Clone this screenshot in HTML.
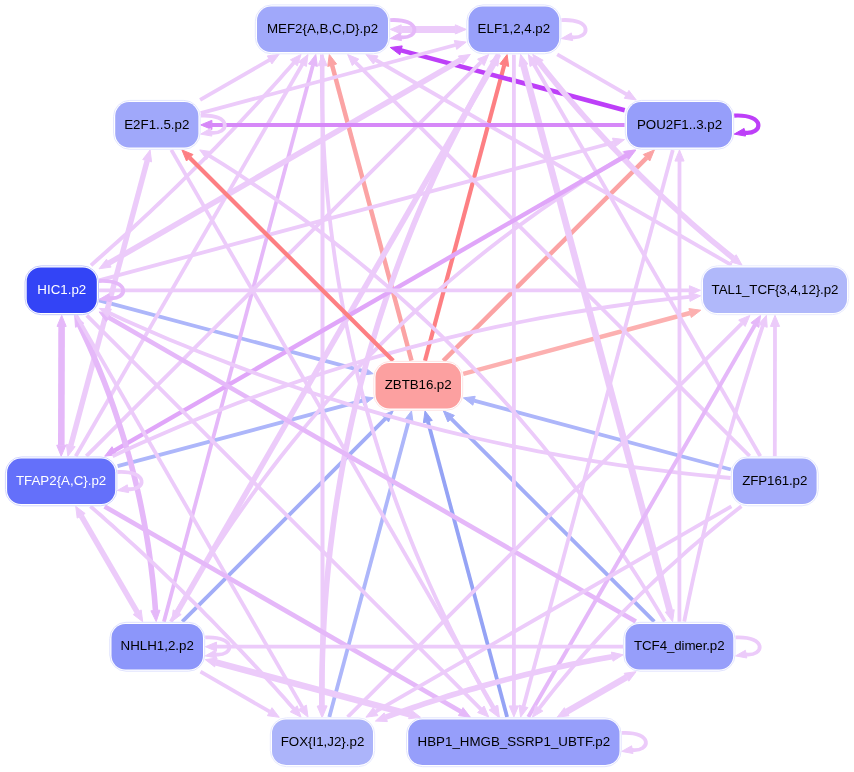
<!DOCTYPE html>
<html><head><meta charset="utf-8"><style>
html,body{margin:0;padding:0;background:#fff;width:854px;height:772px;overflow:hidden}
svg{display:block;will-change:transform}
text{font-family:"Liberation Sans",sans-serif;font-size:13.33px;text-anchor:middle}
</style></head><body>
<svg width="854" height="772" viewBox="0 0 854 772">
<path d="M411.5,360.7L332.1,65.2" stroke="#fba3a4" stroke-width="4.5" fill="none"/>
<polygon points="329.3,54.5 336.6,64.0 327.7,66.4" fill="#fba3a4" stroke="#fba3a4" stroke-width="1"/>
<path d="M425.0,360.7L504.2,65.2" stroke="#fd7f83" stroke-width="4.2" fill="none"/>
<polygon points="507.1,54.5 508.7,66.4 499.8,64.0" fill="#fd7f83" stroke="#fd7f83" stroke-width="1"/>
<path d="M443.3,360.8L646.6,157.8" stroke="#fba3a4" stroke-width="4.5" fill="none"/>
<polygon points="654.4,149.9 649.8,161.0 643.3,154.5" fill="#fba3a4" stroke="#fba3a4" stroke-width="1"/>
<path d="M463.2,373.8L690.1,313.0" stroke="#fcb0b0" stroke-width="4.5" fill="none"/>
<polygon points="700.8,310.2 691.3,317.5 688.9,308.6" fill="#fcb0b0" stroke="#fcb0b0" stroke-width="1"/>
<path d="M99.0,300.3L362.5,370.9" stroke="#adb6fa" stroke-width="3.8" fill="none"/>
<polygon points="373.2,373.7 361.3,375.3 363.6,366.4" fill="#adb6fa" stroke="#adb6fa" stroke-width="1"/>
<path d="M117.6,466.2L362.5,400.7" stroke="#adb6fa" stroke-width="3.8" fill="none"/>
<polygon points="373.3,397.8 363.7,405.1 361.4,396.3" fill="#adb6fa" stroke="#adb6fa" stroke-width="1"/>
<path d="M182.3,621.7L385.4,418.7" stroke="#a2adf7" stroke-width="3.8" fill="none"/>
<polygon points="393.2,410.8 388.6,421.9 382.1,415.4" fill="#a2adf7" stroke="#a2adf7" stroke-width="1"/>
<path d="M329.3,717.1L408.6,421.6" stroke="#adb6fa" stroke-width="3.8" fill="none"/>
<polygon points="411.5,410.9 413.1,422.8 404.2,420.4" fill="#adb6fa" stroke="#adb6fa" stroke-width="1"/>
<path d="M507.1,717.1L427.9,421.6" stroke="#95a3f5" stroke-width="3.8" fill="none"/>
<polygon points="425.0,410.9 432.3,420.4 423.4,422.8" fill="#95a3f5" stroke="#95a3f5" stroke-width="1"/>
<path d="M654.3,621.7L451.1,418.7" stroke="#a2adf7" stroke-width="3.8" fill="none"/>
<polygon points="443.3,410.8 454.4,415.4 447.9,421.9" fill="#a2adf7" stroke="#a2adf7" stroke-width="1"/>
<path d="M730.8,469.5L474.1,400.7" stroke="#adb6fa" stroke-width="3.8" fill="none"/>
<polygon points="463.4,397.9 475.2,396.3 472.9,405.2" fill="#adb6fa" stroke="#adb6fa" stroke-width="1"/>
<path d="M170.9,621.8 L179.3,607.1 L187.8,592.6 L196.5,578.3 L205.3,564.1 L214.2,550.0 L223.4,536.1 L232.6,522.4 L242.1,508.8 L251.7,495.4 L261.4,482.1 L271.3,469.0 L281.3,456.0 L291.5,443.2 L301.9,430.6 L312.4,418.1 L323.1,405.7 L333.9,393.5 L344.9,381.5 L356.0,369.6 L367.3,357.9 L378.7,346.3 L390.3,334.9 L402.0,323.6 L413.9,312.5 L425.9,301.5 L438.1,290.7 L450.5,280.1 L463.0,269.6 L475.7,259.2 L488.5,249.0 L501.4,239.0 L514.6,229.1 L527.8,219.4 L541.3,209.8 L554.9,200.4 L568.6,191.1 L582.5,182.0 L596.5,173.0 L610.7,164.2 L625.1,155.5" stroke="#eccbfa" stroke-width="3.8" fill="none"/>
<polygon points="634.6,149.9 627.4,159.5 622.8,151.6" fill="#eccbfa" stroke="#eccbfa" stroke-width="1"/>
<path d="M200.1,99.9L269.6,59.9" stroke="#eccbfa" stroke-width="3.8" fill="none"/>
<polygon points="279.2,54.3 271.9,63.9 267.3,55.9" fill="#eccbfa" stroke="#eccbfa" stroke-width="1"/>
<path d="M91.0,265.3 L96.4,260.5 L101.8,255.8 L107.1,251.0 L112.5,246.2 L117.8,241.5 L123.1,236.6 L128.5,231.8 L133.7,227.0 L139.0,222.1 L144.3,217.2 L149.5,212.3 L154.7,207.4 L159.9,202.5 L165.1,197.5 L170.3,192.5 L175.4,187.6 L180.5,182.6 L185.6,177.5 L190.7,172.5 L195.8,167.4 L200.9,162.4 L205.9,157.3 L211.0,152.2 L216.0,147.1 L221.0,141.9 L225.9,136.8 L230.9,131.6 L235.9,126.4 L240.8,121.2 L245.7,116.0 L250.6,110.7 L255.5,105.5 L260.3,100.2 L265.2,94.9 L270.0,89.6 L274.8,84.3 L279.6,78.9 L284.3,73.6 L289.1,68.2 L293.8,62.8" stroke="#eccbfa" stroke-width="3.8" fill="none"/>
<polygon points="301.1,54.4 297.3,65.8 290.4,59.8" fill="#eccbfa" stroke="#eccbfa" stroke-width="1"/>
<path d="M75.7,456.2L302.4,64.2" stroke="#eccbfa" stroke-width="3.8" fill="none"/>
<polygon points="308.0,54.5 306.4,66.5 298.4,61.9" fill="#eccbfa" stroke="#eccbfa" stroke-width="1"/>
<path d="M163.9,621.7L312.9,65.2" stroke="#e5b8f9" stroke-width="3.8" fill="none"/>
<polygon points="315.8,54.4 317.4,66.4 308.5,64.0" fill="#e5b8f9" stroke="#e5b8f9" stroke-width="1"/>
<path d="M322.5,65.7L322.5,705.9" stroke="#eccbfa" stroke-width="4" fill="none"/>
<polygon points="322.5,716.9 317.9,705.9 327.1,705.9" fill="#eccbfa" stroke="#eccbfa" stroke-width="1"/>
<polygon points="322.5,54.7 327.1,65.7 317.9,65.7" fill="#eccbfa" stroke="#eccbfa" stroke-width="1"/>
<path d="M749.7,456.2L355.5,62.4" stroke="#eccbfa" stroke-width="3.8" fill="none"/>
<polygon points="347.6,54.5 358.8,59.1 352.3,65.6" fill="#eccbfa" stroke="#eccbfa" stroke-width="1"/>
<path d="M731.6,265.2L375.7,60.0" stroke="#eccbfa" stroke-width="3.8" fill="none"/>
<polygon points="365.9,54.4 378.0,56.0 373.4,64.0" fill="#eccbfa" stroke="#eccbfa" stroke-width="1"/>
<path d="M624.7,110.2L401.0,50.4" stroke="#bd3ff8" stroke-width="4.6" fill="none"/>
<polygon points="390.3,47.5 402.2,45.9 399.9,54.8" fill="#bd3ff8" stroke="#bd3ff8" stroke-width="1"/>
<path d="M401.2,29.4L455.3,29.4" stroke="#eccbfa" stroke-width="7" fill="none"/>
<polygon points="466.3,29.4 455.3,34.0 455.3,24.8" fill="#eccbfa" stroke="#eccbfa" stroke-width="1"/>
<polygon points="390.2,29.4 401.2,24.8 401.2,34.0" fill="#eccbfa" stroke="#eccbfa" stroke-width="1"/>
<path d="M321.9,54.4 L321.8,71.9 L321.9,89.3 L322.2,106.7 L322.7,124.1 L323.5,141.4 L324.5,158.6 L325.7,175.7 L327.2,192.8 L328.8,209.8 L330.7,226.8 L332.9,243.7 L335.2,260.6 L337.8,277.4 L340.6,294.1 L343.6,310.8 L346.9,327.4 L350.4,343.9 L354.1,360.4 L358.0,376.8 L362.2,393.2 L366.6,409.5 L371.2,425.7 L376.1,441.9 L381.1,458.0 L386.4,474.1 L391.9,490.1 L397.7,506.0 L403.7,521.9 L409.9,537.7 L416.3,553.5 L423.0,569.2 L429.8,584.8 L436.9,600.4 L444.3,615.9 L451.8,631.3 L459.6,646.7 L467.6,662.1 L475.9,677.3 L484.3,692.5 L493.0,707.7" stroke="#eccbfa" stroke-width="3.8" fill="none"/>
<polygon points="498.7,717.3 489.1,710.0 497.0,705.4" fill="#eccbfa" stroke="#eccbfa" stroke-width="1"/>
<path d="M200.7,113.1L455.5,45.0" stroke="#eccbfa" stroke-width="3.8" fill="none"/>
<polygon points="466.2,42.1 456.7,49.4 454.3,40.5" fill="#eccbfa" stroke="#eccbfa" stroke-width="1"/>
<path d="M108.8,263.2L460.7,60.0" stroke="#eccbfa" stroke-width="5.6" fill="none"/>
<polygon points="470.4,54.4 463.0,64.0 458.4,56.0" fill="#eccbfa" stroke="#eccbfa" stroke-width="1"/>
<polygon points="99.0,268.8 106.5,259.2 111.1,267.1" fill="#eccbfa" stroke="#eccbfa" stroke-width="1"/>
<path d="M86.3,456.2L480.8,62.4" stroke="#eccbfa" stroke-width="3.8" fill="none"/>
<polygon points="488.7,54.5 484.1,65.6 477.6,59.1" fill="#eccbfa" stroke="#eccbfa" stroke-width="1"/>
<path d="M177.2,612.2L493.9,63.9" stroke="#eccbfa" stroke-width="5.6" fill="none"/>
<polygon points="499.4,54.4 497.9,66.2 489.9,61.6" fill="#eccbfa" stroke="#eccbfa" stroke-width="1"/>
<polygon points="171.7,621.7 173.2,609.9 181.2,614.5" fill="#eccbfa" stroke="#eccbfa" stroke-width="1"/>
<path d="M513.9,54.7L513.9,705.9" stroke="#eccbfa" stroke-width="3.8" fill="none"/>
<polygon points="513.9,716.9 509.2,705.9 518.5,705.9" fill="#eccbfa" stroke="#eccbfa" stroke-width="1"/>
<path d="M669.8,610.9L523.4,65.2" stroke="#eccbfa" stroke-width="6.6" fill="none"/>
<polygon points="520.6,54.4 527.9,64.0 519.0,66.4" fill="#eccbfa" stroke="#eccbfa" stroke-width="1"/>
<polygon points="672.6,621.7 665.3,612.1 674.2,609.7" fill="#eccbfa" stroke="#eccbfa" stroke-width="1"/>
<path d="M760.3,456.2L533.9,64.2" stroke="#eccbfa" stroke-width="3.8" fill="none"/>
<polygon points="528.3,54.5 537.9,61.9 530.0,66.5" fill="#eccbfa" stroke="#eccbfa" stroke-width="1"/>
<path d="M733.4,258.3 L728.0,254.0 L722.7,249.6 L717.3,245.2 L712.0,240.8 L706.8,236.3 L701.5,231.8 L696.3,227.3 L691.1,222.8 L686.0,218.2 L680.8,213.6 L675.7,209.0 L670.6,204.4 L665.6,199.7 L660.6,195.0 L655.6,190.3 L650.6,185.5 L645.7,180.7 L640.8,175.9 L635.9,171.1 L631.0,166.2 L626.2,161.3 L621.4,156.4 L616.6,151.4 L611.9,146.5 L607.1,141.5 L602.4,136.4 L597.8,131.4 L593.1,126.3 L588.5,121.2 L583.9,116.0 L579.4,110.9 L574.9,105.7 L570.4,100.5 L565.9,95.2 L561.4,89.9 L557.0,84.6 L552.6,79.3 L548.3,73.9 L543.9,68.5 L539.6,63.1" stroke="#eccbfa" stroke-width="5.6" fill="none"/>
<polygon points="532.7,54.3 543.2,60.3 536.0,66.0" fill="#eccbfa" stroke="#eccbfa" stroke-width="1"/>
<polygon points="742.1,265.2 730.5,261.9 736.2,254.7" fill="#eccbfa" stroke="#eccbfa" stroke-width="1"/>
<path d="M557.2,54.3L626.6,94.4" stroke="#eccbfa" stroke-width="3.8" fill="none"/>
<polygon points="636.2,99.9 624.3,98.3 628.9,90.4" fill="#eccbfa" stroke="#eccbfa" stroke-width="1"/>
<path d="M498.7,54.3 L489.8,69.4 L481.2,84.6 L472.8,99.8 L464.7,115.1 L456.8,130.5 L449.0,145.9 L441.6,161.4 L434.3,176.9 L427.3,192.5 L420.5,208.2 L413.9,223.9 L407.6,239.7 L401.5,255.5 L395.6,271.4 L389.9,287.4 L384.5,303.4 L379.2,319.5 L374.3,335.6 L369.5,351.8 L365.0,368.1 L360.6,384.4 L356.6,400.8 L352.7,417.2 L349.1,433.7 L345.7,450.3 L342.5,466.9 L339.6,483.6 L336.8,500.4 L334.3,517.2 L332.1,534.1 L330.0,551.0 L328.2,568.0 L326.6,585.0 L325.2,602.2 L324.1,619.3 L323.2,636.6 L322.5,653.9 L322.0,671.2 L321.8,688.6 L321.8,706.1" stroke="#eccbfa" stroke-width="5.6" fill="none"/>
<polygon points="321.9,717.2 317.2,706.2 326.4,706.1" fill="#eccbfa" stroke="#eccbfa" stroke-width="1"/>
<path d="M99.1,280.3L613.7,142.5" stroke="#eccbfa" stroke-width="3.8" fill="none"/>
<polygon points="624.5,139.6 614.9,146.9 612.5,138.1" fill="#eccbfa" stroke="#eccbfa" stroke-width="1"/>
<path d="M114.3,450.7L626.3,155.5" stroke="#e0a6f9" stroke-width="4.4" fill="none"/>
<polygon points="635.9,150.0 628.6,159.5 624.0,151.5" fill="#e0a6f9" stroke="#e0a6f9" stroke-width="1"/>
<polygon points="104.7,456.2 112.0,446.7 116.6,454.6" fill="#e0a6f9" stroke="#e0a6f9" stroke-width="1"/>
<path d="M672.8,149.9L523.5,706.4" stroke="#eccbfa" stroke-width="3.8" fill="none"/>
<polygon points="520.6,717.2 519.0,705.2 527.9,707.6" fill="#eccbfa" stroke="#eccbfa" stroke-width="1"/>
<path d="M679.4,621.7L679.5,161.1" stroke="#eccbfa" stroke-width="3.8" fill="none"/>
<polygon points="679.5,149.9 684.1,161.1 674.9,161.1" fill="#eccbfa" stroke="#eccbfa" stroke-width="1"/>
<path d="M624.6,124.9L211.9,124.9" stroke="#d688f8" stroke-width="4" fill="none"/>
<polygon points="200.7,124.9 211.9,120.3 211.9,129.5" fill="#d688f8" stroke="#d688f8" stroke-width="1"/>
<path d="M70.8,445.5L147.2,160.7" stroke="#eccbfa" stroke-width="5.4" fill="none"/>
<polygon points="150.1,150.0 151.6,161.9 142.7,159.5" fill="#eccbfa" stroke="#eccbfa" stroke-width="1"/>
<polygon points="67.9,456.2 66.3,444.3 75.2,446.7" fill="#eccbfa" stroke="#eccbfa" stroke-width="1"/>
<path d="M171.3,149.9L493.9,707.7" stroke="#eccbfa" stroke-width="3.8" fill="none"/>
<polygon points="499.4,717.2 489.9,710.0 497.8,705.4" fill="#eccbfa" stroke="#eccbfa" stroke-width="1"/>
<path d="M664.9,621.5 L656.3,607.1 L647.5,592.8 L638.6,578.6 L629.6,564.6 L620.4,550.7 L611.1,537.0 L601.6,523.4 L592.0,510.0 L582.3,496.7 L572.4,483.5 L562.4,470.5 L552.2,457.7 L541.9,444.9 L531.4,432.4 L520.8,419.9 L510.0,407.6 L499.1,395.5 L488.1,383.5 L476.9,371.6 L465.6,359.9 L454.1,348.3 L442.5,336.9 L430.8,325.6 L418.9,314.5 L406.8,303.4 L394.7,292.6 L382.3,281.9 L369.9,271.3 L357.3,260.9 L344.5,250.6 L331.6,240.4 L318.6,230.4 L305.4,220.6 L292.1,210.9 L278.6,201.3 L265.0,191.9 L251.2,182.6 L237.3,173.4 L223.3,164.4 L209.1,155.6" stroke="#eccbfa" stroke-width="3.8" fill="none"/>
<polygon points="199.7,149.9 211.5,151.7 206.7,159.5" fill="#eccbfa" stroke="#eccbfa" stroke-width="1"/>
<path d="M61.6,326.4L61.3,445.2" stroke="#e5b8f9" stroke-width="6.6" fill="none"/>
<polygon points="61.2,456.3 56.7,445.2 65.9,445.2" fill="#e5b8f9" stroke="#e5b8f9" stroke-width="1"/>
<polygon points="61.7,315.3 66.2,326.4 57.0,326.4" fill="#e5b8f9" stroke="#e5b8f9" stroke-width="1"/>
<path d="M99.2,290.3L689.4,290.3" stroke="#eccbfa" stroke-width="3.8" fill="none"/>
<polygon points="700.5,290.3 689.4,294.9 689.4,285.7" fill="#eccbfa" stroke="#eccbfa" stroke-width="1"/>
<path d="M79.6,325.2 L82.8,332.0 L86.0,338.8 L89.1,345.6 L92.1,352.5 L95.0,359.3 L97.9,366.2 L100.7,373.1 L103.5,380.0 L106.2,386.9 L108.8,393.8 L111.3,400.8 L113.8,407.8 L116.2,414.8 L118.5,421.8 L120.8,428.8 L123.0,435.9 L125.1,442.9 L127.2,450.0 L129.2,457.1 L131.1,464.2 L133.0,471.4 L134.8,478.5 L136.5,485.7 L138.2,492.9 L139.8,500.1 L141.3,507.4 L142.7,514.6 L144.1,521.9 L145.4,529.2 L146.7,536.5 L147.9,543.8 L149.0,551.1 L150.0,558.5 L151.0,565.9 L151.9,573.3 L152.8,580.7 L153.5,588.1 L154.3,595.6 L154.9,603.0 L155.5,610.5" stroke="#e5b8f9" stroke-width="5.6" fill="none"/>
<polygon points="156.2,621.6 150.9,610.8 160.0,610.2" fill="#e5b8f9" stroke="#e5b8f9" stroke-width="1"/>
<polygon points="74.7,315.3 83.7,323.2 75.5,327.3" fill="#e5b8f9" stroke="#e5b8f9" stroke-width="1"/>
<path d="M76.2,315.4L302.4,707.4" stroke="#eccbfa" stroke-width="3.8" fill="none"/>
<polygon points="308.0,717.1 298.4,709.7 306.4,705.1" fill="#eccbfa" stroke="#eccbfa" stroke-width="1"/>
<path d="M86.8,315.4L480.8,709.2" stroke="#eccbfa" stroke-width="3.8" fill="none"/>
<polygon points="488.8,717.1 477.6,712.5 484.1,706.0" fill="#eccbfa" stroke="#eccbfa" stroke-width="1"/>
<path d="M635.8,621.6L108.7,317.4" stroke="#e5b8f9" stroke-width="4.6" fill="none"/>
<polygon points="99.1,311.9 111.0,313.4 106.4,321.4" fill="#e5b8f9" stroke="#e5b8f9" stroke-width="1"/>
<path d="M730.6,478.0 L714.4,476.5 L698.2,474.9 L682.0,473.1 L665.9,471.2 L649.8,469.2 L633.7,467.1 L617.7,464.8 L601.7,462.3 L585.8,459.8 L569.9,457.1 L554.0,454.2 L538.2,451.3 L522.4,448.2 L506.6,444.9 L490.9,441.5 L475.2,438.0 L459.5,434.4 L443.9,430.6 L428.3,426.7 L412.8,422.6 L397.3,418.4 L381.8,414.1 L366.4,409.7 L351.0,405.1 L335.6,400.3 L320.3,395.5 L305.0,390.5 L289.7,385.3 L274.5,380.1 L259.3,374.7 L244.2,369.1 L229.1,363.4 L214.0,357.6 L199.0,351.7 L184.0,345.6 L169.0,339.4 L154.1,333.0 L139.2,326.5 L124.3,319.9 L109.5,313.1" stroke="#eccbfa" stroke-width="3.8" fill="none"/>
<polygon points="99.3,308.4 111.4,309.0 107.6,317.3" fill="#eccbfa" stroke="#eccbfa" stroke-width="1"/>
<path d="M347.6,717.1L742.0,323.3" stroke="#eccbfa" stroke-width="3.8" fill="none"/>
<polygon points="749.9,315.4 745.2,326.5 738.7,320.0" fill="#eccbfa" stroke="#eccbfa" stroke-width="1"/>
<path d="M528.3,717.1L754.9,325.1" stroke="#e5b8f9" stroke-width="4" fill="none"/>
<polygon points="760.5,315.4 758.9,327.4 750.9,322.8" fill="#e5b8f9" stroke="#e5b8f9" stroke-width="1"/>
<path d="M684.2,621.7 L685.7,614.1 L687.3,606.6 L688.8,599.1 L690.4,591.6 L692.0,584.1 L693.6,576.6 L695.3,569.2 L697.0,561.7 L698.7,554.2 L700.4,546.8 L702.1,539.3 L703.9,531.9 L705.7,524.4 L707.5,517.0 L709.3,509.5 L711.2,502.1 L713.1,494.7 L715.0,487.3 L716.9,479.9 L718.9,472.5 L720.8,465.1 L722.8,457.7 L724.9,450.3 L726.9,443.0 L729.0,435.6 L731.1,428.2 L733.2,420.9 L735.3,413.5 L737.5,406.2 L739.7,398.8 L741.9,391.5 L744.1,384.2 L746.4,376.9 L748.7,369.6 L751.0,362.2 L753.3,354.9 L755.6,347.7 L758.0,340.4 L760.4,333.1 L762.8,325.8" stroke="#eccbfa" stroke-width="3.8" fill="none"/>
<polygon points="766.4,315.3 767.2,327.3 758.5,324.3" fill="#eccbfa" stroke="#eccbfa" stroke-width="1"/>
<path d="M774.8,456.3L775.0,326.4" stroke="#eccbfa" stroke-width="3.8" fill="none"/>
<polygon points="775.0,315.3 779.6,326.4 770.4,326.4" fill="#eccbfa" stroke="#eccbfa" stroke-width="1"/>
<path d="M112.6,456.2 L126.4,449.8 L140.2,443.5 L154.0,437.4 L167.9,431.4 L181.8,425.5 L195.7,419.7 L209.7,414.0 L223.7,408.5 L237.8,403.1 L251.9,397.8 L266.0,392.7 L280.1,387.6 L294.3,382.7 L308.5,377.9 L322.7,373.3 L337.0,368.7 L351.3,364.3 L365.7,360.0 L380.0,355.9 L394.4,351.8 L408.9,347.9 L423.4,344.1 L437.9,340.4 L452.4,336.9 L467.0,333.4 L481.6,330.1 L496.2,326.9 L510.9,323.9 L525.6,321.0 L540.3,318.1 L555.1,315.5 L569.9,312.9 L584.8,310.5 L599.6,308.1 L614.5,306.0 L629.5,303.9 L644.4,301.9 L659.4,300.1 L674.5,298.4 L689.5,296.8" stroke="#eccbfa" stroke-width="3.8" fill="none"/>
<polygon points="700.7,295.8 690.0,301.4 689.1,292.3" fill="#eccbfa" stroke="#eccbfa" stroke-width="1"/>
<path d="M81.2,515.8L137.2,612.2" stroke="#eccbfa" stroke-width="5.6" fill="none"/>
<polygon points="142.7,621.7 133.2,614.5 141.2,609.9" fill="#eccbfa" stroke="#eccbfa" stroke-width="1"/>
<polygon points="75.7,506.3 85.2,513.5 77.2,518.1" fill="#eccbfa" stroke="#eccbfa" stroke-width="1"/>
<path d="M90.4,506.3 L95.9,511.1 L101.3,515.8 L106.6,520.6 L112.0,525.3 L117.3,530.1 L122.7,535.0 L128.0,539.8 L133.3,544.6 L138.6,549.5 L143.8,554.4 L149.1,559.3 L154.3,564.2 L159.5,569.1 L164.7,574.1 L169.9,579.1 L175.0,584.0 L180.2,589.0 L185.3,594.1 L190.4,599.1 L195.5,604.1 L200.6,609.2 L205.6,614.3 L210.7,619.4 L215.7,624.5 L220.7,629.7 L225.7,634.8 L230.7,640.0 L235.6,645.2 L240.6,650.4 L245.5,655.6 L250.4,660.9 L255.3,666.1 L260.2,671.4 L265.0,676.7 L269.8,682.0 L274.7,687.3 L279.5,692.7 L284.3,698.0 L289.0,703.4 L293.8,708.8" stroke="#eccbfa" stroke-width="3.8" fill="none"/>
<polygon points="301.1,717.2 290.3,711.8 297.2,705.8" fill="#eccbfa" stroke="#eccbfa" stroke-width="1"/>
<path d="M104.6,506.4L460.7,711.6" stroke="#e5b8f9" stroke-width="4.6" fill="none"/>
<polygon points="470.4,717.2 458.4,715.6 463.0,707.6" fill="#e5b8f9" stroke="#e5b8f9" stroke-width="1"/>
<path d="M200.5,671.7L269.7,711.7" stroke="#eccbfa" stroke-width="3.8" fill="none"/>
<polygon points="279.3,717.3 267.4,715.7 272.0,707.7" fill="#eccbfa" stroke="#eccbfa" stroke-width="1"/>
<path d="M215.9,662.4L409.9,714.4" stroke="#eccbfa" stroke-width="6.6" fill="none"/>
<polygon points="420.6,717.3 408.7,718.8 411.1,709.9" fill="#eccbfa" stroke="#eccbfa" stroke-width="1"/>
<polygon points="205.2,659.6 217.1,658.0 214.7,666.9" fill="#eccbfa" stroke="#eccbfa" stroke-width="1"/>
<path d="M623.0,646.7L216.5,646.7" stroke="#eccbfa" stroke-width="3.8" fill="none"/>
<polygon points="205.3,646.7 216.5,642.1 216.5,651.3" fill="#eccbfa" stroke="#eccbfa" stroke-width="1"/>
<path d="M731.4,506.4L375.6,711.6" stroke="#eccbfa" stroke-width="3.8" fill="none"/>
<polygon points="365.9,717.2 373.3,707.6 377.9,715.6" fill="#eccbfa" stroke="#eccbfa" stroke-width="1"/>
<path d="M612.2,656.7 L606.4,657.7 L600.6,658.7 L594.9,659.8 L589.1,660.9 L583.3,662.0 L577.6,663.2 L571.8,664.3 L566.1,665.5 L560.3,666.8 L554.6,668.0 L548.9,669.3 L543.2,670.6 L537.4,671.9 L531.7,673.3 L526.0,674.6 L520.3,676.0 L514.7,677.5 L509.0,678.9 L503.3,680.4 L497.7,681.9 L492.0,683.4 L486.3,685.0 L480.7,686.5 L475.1,688.2 L469.4,689.8 L463.8,691.4 L458.2,693.1 L452.6,694.8 L447.0,696.5 L441.4,698.3 L435.8,700.1 L430.2,701.9 L424.6,703.7 L419.1,705.6 L413.5,707.5 L407.9,709.4 L402.4,711.3 L396.9,713.2 L391.3,715.2 L385.8,717.2" stroke="#eccbfa" stroke-width="5.6" fill="none"/>
<polygon points="375.4,721.1 384.2,712.9 387.4,721.6" fill="#eccbfa" stroke="#eccbfa" stroke-width="1"/>
<polygon points="623.2,654.8 613.0,661.2 611.4,652.1" fill="#eccbfa" stroke="#eccbfa" stroke-width="1"/>
<path d="M741.4,506.3 L735.7,510.7 L730.0,515.2 L724.4,519.7 L718.8,524.2 L713.3,528.8 L707.8,533.4 L702.3,538.0 L696.9,542.6 L691.4,547.3 L686.0,552.0 L680.7,556.8 L675.4,561.6 L670.1,566.4 L664.8,571.2 L659.6,576.1 L654.4,581.0 L649.2,586.0 L644.1,590.9 L639.0,595.9 L633.9,601.0 L628.9,606.0 L623.9,611.1 L618.9,616.3 L614.0,621.4 L609.0,626.6 L604.2,631.8 L599.3,637.1 L594.5,642.4 L589.7,647.7 L585.0,653.1 L580.2,658.4 L575.6,663.9 L570.9,669.3 L566.3,674.8 L561.7,680.3 L557.1,685.8 L552.6,691.4 L548.1,697.0 L543.6,702.7 L539.2,708.3" stroke="#eccbfa" stroke-width="3.8" fill="none"/>
<polygon points="532.4,717.2 535.6,705.5 542.8,711.1" fill="#eccbfa" stroke="#eccbfa" stroke-width="1"/>
<path d="M626.5,677.2L566.7,711.7" stroke="#eccbfa" stroke-width="6.5" fill="none"/>
<polygon points="557.1,717.3 564.4,707.7 569.0,715.7" fill="#eccbfa" stroke="#eccbfa" stroke-width="1"/>
<polygon points="636.1,671.7 628.8,681.2 624.2,673.3" fill="#eccbfa" stroke="#eccbfa" stroke-width="1"/>
<path d="M393.2,360.8L189.7,157.8" stroke="#fd7f83" stroke-width="4.2" fill="none"/>
<polygon points="181.9,149.9 193.0,154.5 186.5,161.0" fill="#fd7f83" stroke="#fd7f83" stroke-width="1"/>
<path d="M390.2,20.1 C422.2,18.4 419.2,39.4 400.2,37.2" stroke="#e5b8f9" stroke-width="3.8" fill="none"/>
<polygon points="390.2,38.6 400.1,32.9 401.5,40.6" fill="#e5b8f9" stroke="#e5b8f9" stroke-width="1"/>
<path d="M561.4,20.1 C593.4,18.4 590.4,39.4 571.4,37.2" stroke="#eccbfa" stroke-width="3.8" fill="none"/>
<polygon points="561.4,38.6 571.3,32.9 572.7,40.6" fill="#eccbfa" stroke="#eccbfa" stroke-width="1"/>
<path d="M734.2,115.6 C766.2,113.9 763.2,134.9 744.2,132.7" stroke="#bd3ff8" stroke-width="4.2" fill="none"/>
<polygon points="734.2,134.1 744.1,128.4 745.5,136.1" fill="#bd3ff8" stroke="#bd3ff8" stroke-width="1"/>
<path d="M200.6,115.6 C232.6,113.9 229.6,134.9 210.6,132.7" stroke="#eccbfa" stroke-width="3.8" fill="none"/>
<polygon points="200.6,134.1 210.5,128.4 211.9,136.1" fill="#eccbfa" stroke="#eccbfa" stroke-width="1"/>
<path d="M99.0,281.0 C131.0,279.3 128.0,300.3 109.0,298.1" stroke="#e5b8f9" stroke-width="3.8" fill="none"/>
<polygon points="99.0,299.5 108.9,293.8 110.3,301.6" fill="#e5b8f9" stroke="#e5b8f9" stroke-width="1"/>
<path d="M117.4,472.0 C149.4,470.3 146.4,491.3 127.4,489.1" stroke="#eccbfa" stroke-width="3.8" fill="none"/>
<polygon points="117.4,490.5 127.3,484.8 128.7,492.6" fill="#eccbfa" stroke="#eccbfa" stroke-width="1"/>
<path d="M205.2,637.4 C237.2,635.7 234.2,656.7 215.2,654.5" stroke="#eccbfa" stroke-width="3.8" fill="none"/>
<polygon points="205.2,655.9 215.1,650.3 216.5,658.0" fill="#eccbfa" stroke="#eccbfa" stroke-width="1"/>
<path d="M735.5,637.4 C767.5,635.7 764.5,656.7 745.5,654.5" stroke="#eccbfa" stroke-width="3.8" fill="none"/>
<polygon points="735.5,655.9 745.4,650.3 746.8,658.0" fill="#eccbfa" stroke="#eccbfa" stroke-width="1"/>
<path d="M621.7,732.9 C653.7,731.2 650.7,752.2 631.7,750.0" stroke="#eccbfa" stroke-width="3.8" fill="none"/>
<polygon points="621.7,751.4 631.6,745.8 633.0,753.5" fill="#eccbfa" stroke="#eccbfa" stroke-width="1"/>
<rect x="255.3" y="4.9" width="134.4" height="48.9" rx="16.2" fill="#fff" stroke="#e4e7fe" stroke-width="1"/>
<rect x="257.0" y="6.6" width="131.0" height="45.5" rx="14" fill="#a0a8fa"/>
<text x="322.5" y="33.0" fill="#000">MEF2{A,B,C,D}.p2</text>
<rect x="466.8" y="4.9" width="94.1" height="48.9" rx="16.2" fill="#fff" stroke="#e2e4fe" stroke-width="1"/>
<rect x="468.5" y="6.6" width="90.7" height="45.5" rx="14" fill="#98a0fa"/>
<text x="513.9" y="33.0" fill="#000">ELF1,2,4.p2</text>
<rect x="625.3" y="100.4" width="108.4" height="48.9" rx="16.2" fill="#fff" stroke="#e2e4fe" stroke-width="1"/>
<rect x="627.0" y="102.1" width="105.0" height="45.5" rx="14" fill="#969efa"/>
<text x="679.5" y="128.5" fill="#000">POU2F1..3.p2</text>
<rect x="701.3" y="265.8" width="147.4" height="48.9" rx="16.2" fill="#fff" stroke="#e9ebfe" stroke-width="1"/>
<rect x="703.0" y="267.5" width="144.0" height="45.5" rx="14" fill="#b0b8fa"/>
<text x="775.0" y="293.9" textLength="126.8" lengthAdjust="spacing" fill="#000">TAL1_TCF{3,4,12}.p2</text>
<rect x="731.3" y="456.9" width="87.0" height="48.9" rx="16.2" fill="#fff" stroke="#e4e7fe" stroke-width="1"/>
<rect x="733.0" y="458.6" width="83.6" height="45.5" rx="14" fill="#a0a8fa"/>
<text x="774.8" y="484.9" textLength="65" lengthAdjust="spacing" fill="#000">ZFP161.p2</text>
<rect x="623.7" y="622.3" width="111.3" height="48.9" rx="16.2" fill="#fff" stroke="#e2e4fe" stroke-width="1"/>
<rect x="625.4" y="624.0" width="107.9" height="45.5" rx="14" fill="#969efa"/>
<text x="679.3" y="650.3" textLength="90.5" lengthAdjust="spacing" fill="#000">TCF4_dimer.p2</text>
<rect x="406.5" y="717.8" width="214.7" height="48.9" rx="16.2" fill="#fff" stroke="#e2e4fe" stroke-width="1"/>
<rect x="408.2" y="719.5" width="211.3" height="45.5" rx="14" fill="#969efa"/>
<text x="513.9" y="745.8" fill="#000">HBP1_HMGB_SSRP1_UBTF.p2</text>
<rect x="270.3" y="717.8" width="104.4" height="48.9" rx="16.2" fill="#fff" stroke="#e8eafe" stroke-width="1"/>
<rect x="272.0" y="719.5" width="101.0" height="45.5" rx="14" fill="#acb4fa"/>
<text x="322.5" y="745.8" fill="#000">FOX{I1,J2}.p2</text>
<rect x="109.8" y="622.3" width="94.9" height="48.9" rx="16.2" fill="#fff" stroke="#dfe2fe" stroke-width="1"/>
<rect x="111.5" y="624.0" width="91.5" height="45.5" rx="14" fill="#8c96fa"/>
<text x="157.2" y="650.3" fill="#000">NHLH1,2.p2</text>
<rect x="5.4" y="456.9" width="111.5" height="48.9" rx="16.2" fill="#fff" stroke="#d4d7fe" stroke-width="1"/>
<rect x="7.1" y="458.6" width="108.1" height="45.5" rx="14" fill="#6470fa"/>
<text x="61.1" y="484.9" fill="#fff">TFAP2{A,C}.p2</text>
<rect x="25.0" y="265.8" width="73.5" height="48.9" rx="16.2" fill="#fff" stroke="#c6cbfc" stroke-width="1"/>
<rect x="26.7" y="267.5" width="70.1" height="45.5" rx="14" fill="#3344f6"/>
<text x="61.8" y="293.9" fill="#fff">HIC1.p2</text>
<rect x="113.5" y="100.4" width="86.6" height="48.9" rx="16.2" fill="#fff" stroke="#e4e7fe" stroke-width="1"/>
<rect x="115.2" y="102.1" width="83.2" height="45.5" rx="14" fill="#a0a8fa"/>
<text x="156.8" y="128.5" fill="#000">E2F1..5.p2</text>
<rect x="373.8" y="361.4" width="88.9" height="48.9" rx="16.2" fill="#fff" stroke="#fee4e4" stroke-width="1"/>
<rect x="375.5" y="363.1" width="85.5" height="45.5" rx="14" fill="#fca0a0"/>
<text x="418.2" y="389.4" textLength="66.8" lengthAdjust="spacing" fill="#000">ZBTB16.p2</text>
</svg>
</body></html>
